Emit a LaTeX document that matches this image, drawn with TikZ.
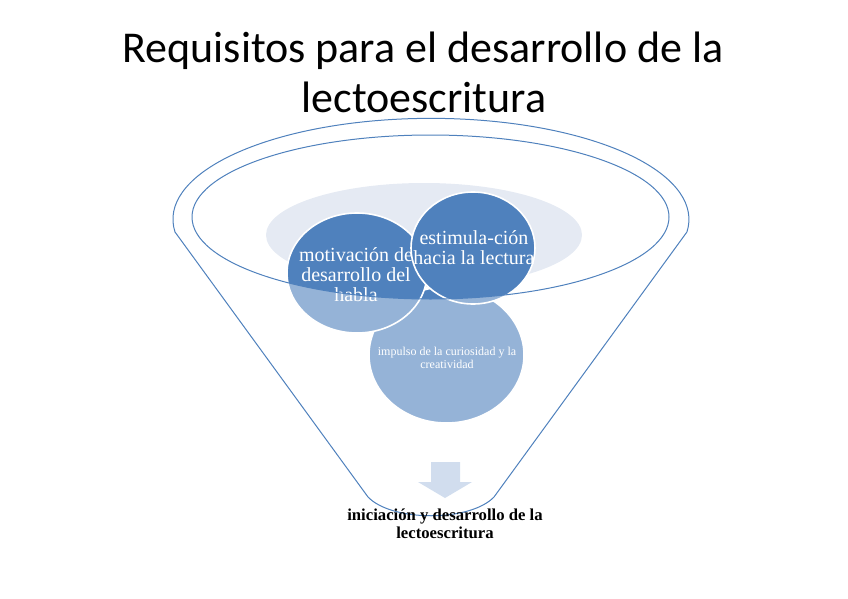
\documentclass[tikz,border=0pt]{standalone}
\usepackage{fontspec}
\setmainfont{Liberation Serif}
\newfontfamily\titlefont{Carlito}
\usepackage{tikz}
\usetikzlibrary{shapes.geometric}
\definecolor{funnelblue}{HTML}{4F81BD}
\definecolor{rimgray}{HTML}{E5EAF3}
\definecolor{arrowgray}{HTML}{D1DDEE}
\tikzset{bubble/.style={draw=white,line width=1.6pt,fill=funnelblue},
  bubbletext/.style={text=white,align=center,inner sep=0pt,font=\fontsize{20}{20}\selectfont},
  rim/.style={draw=funnelblue,line width=1pt},
  heading/.style={font=\titlefont\fontsize{44}{50}\selectfont,anchor=base,inner sep=0pt}}

\begin{document}
\begin{tikzpicture}[x=1pt,y=-1pt]
\useasboundingbox (0,0) rectangle (848,599);
\fill[rimgray] (424,235) ellipse[x radius=158,y radius=52];
\filldraw[bubble] (446.5,355) ellipse[x radius=77.5,y radius=68];
\node[bubbletext,font=\fontsize{12}{12.5}\selectfont] (impulso) at (447,358) {impulso de la curiosidad y la\\creatividad};
\filldraw[bubble] (357,273) ellipse[x radius=70,y radius=60];
\node[bubbletext] (motivacion) at (356,275) {motivación de\\desarrollo del\\habla};
\filldraw[bubble] (473,248) ellipse[x radius=62,y radius=56];
\node[bubbletext] (estimulacion) at (474,248) {estimula-ción\\hacia la lectura};
\fill[white,opacity=0.4,even odd rule] (175,232) arc[start angle=172.8,end angle=367.2,x radius=258,y radius=101]
  -- (494,497) .. controls (470,522) and (392,522) .. (368,497) -- cycle
  (430.5,217) ellipse[x radius=238.5,y radius=82];
\draw[rim] (175,232) arc[start angle=172.8,end angle=367.2,x radius=258,y radius=101]
  -- (494,497) .. controls (470,522) and (392,522) .. (368,497) -- cycle;
\draw[rim] (430.5,217) ellipse[x radius=238.5,y radius=82];
\fill[arrowgray] (431,462) -- (460,462) -- (460,482) -- (472,482) -- (445,498) -- (418,482) -- (431,482) -- cycle;
\node[heading] (titulo) at (423,63) {Requisitos para el desarrollo de la};
\node[heading] (tituloB) at (424,113) {lectoescritura};
\node[align=center,inner sep=0pt,anchor=base,font=\bfseries\fontsize{16.7}{18}\selectfont] (iniciacion) at (445,538) {iniciación y desarrollo de la\\lectoescritura};
\end{tikzpicture}
\end{document}
